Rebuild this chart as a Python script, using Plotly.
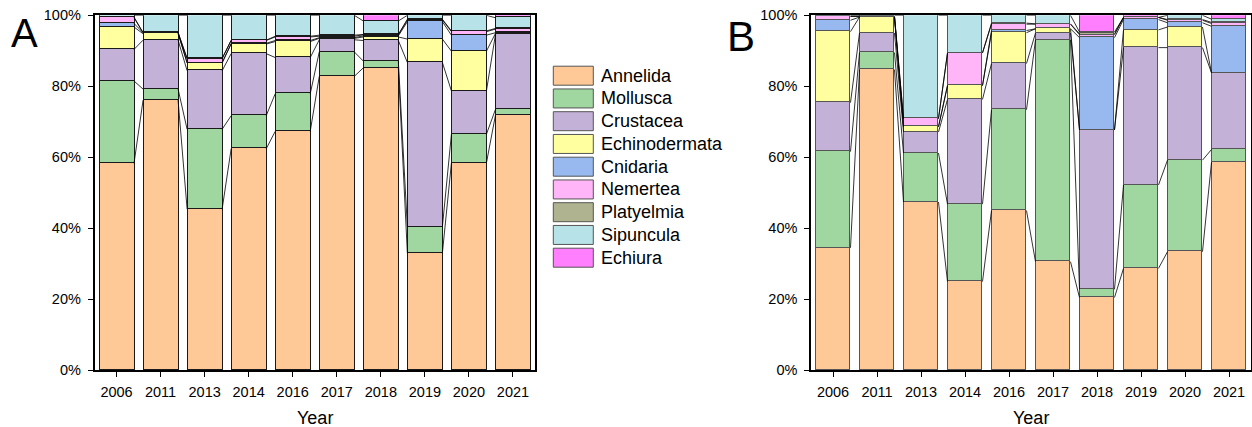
import plotly.graph_objects as go

years = ["2006", "2011", "2013", "2014", "2016", "2017", "2018", "2019", "2020", "2021"]
taxa = ["Annelida", "Mollusca", "Crustacea", "Echinodermata", "Cnidaria",
        "Nemertea", "Platyelmia", "Sipuncula", "Echiura"]
colors = ["#FFC896", "#A0D7A0", "#C3B1D7", "#FFFFA0", "#98B9F0",
          "#FFB5F7", "#AFB38F", "#B7E2E7", "#FF7FFF"]
y_ticks = [0, 20, 40, 60, 80, 100]
y_ticktext = ["0%", "20%", "40%", "60%", "80%", "100%"]

# Panel A (% composition)
A_Annelida = [58.3, 76.1, 45.4, 62.4, 67.3, 82.8, 85.2, 33.0, 58.4, 71.9]
A_Mollusca = [23.2, 3.1, 22.5, 9.3, 10.6, 6.9, 1.9, 7.4, 8.1, 1.6]
A_Crustacea = [8.9, 13.8, 16.5, 17.5, 10.2, 3.4, 5.8, 46.3, 12.2, 21.1]
A_Echinodermata = [6.3, 1.8, 2.2, 2.7, 4.5, 0.4, 1.0, 6.6, 11.2, 0.3]
A_Cnidaria = [1.0, 0.3, 0.0, 0.2, 0.3, 0.2, 0.3, 4.9, 4.5, 0.2]
A_Nemertea = [1.6, 0.0, 1.1, 0.8, 1.0, 0.4, 0.3, 0.5, 1.0, 1.0]
A_Platyelmia = [0.2, 0.0, 0.2, 0.1, 0.2, 0.3, 0.1, 0.2, 0.2, 0.2]
A_Sipuncula = [0.5, 4.9, 12.1, 7.0, 5.9, 5.6, 3.8, 1.1, 4.4, 3.0]
A_Echiura = [0.0, 0.0, 0.0, 0.0, 0.0, 0.0, 1.6, 0.0, 0.0, 0.7]

# Panel B (% composition)
B_Annelida = [34.5, 84.7, 47.4, 25.0, 45.0, 30.6, 20.5, 28.7, 33.4, 58.6]
B_Mollusca = [27.1, 4.8, 13.8, 21.8, 28.4, 62.5, 2.3, 23.5, 25.8, 3.6]
B_Crustacea = [13.8, 5.5, 5.9, 29.5, 13.0, 1.9, 44.9, 38.7, 31.7, 21.6]
B_Echinodermata = [20.0, 4.5, 1.5, 3.9, 8.7, 1.2, 0.0, 5.0, 5.8, 0.0]
B_Cnidaria = [3.2, 0.0, 0.0, 0.0, 0.6, 0.0, 26.0, 2.9, 1.2, 13.1]
B_Nemertea = [1.1, 0.2, 2.3, 9.2, 1.8, 1.3, 0.8, 0.6, 0.7, 0.8]
B_Platyelmia = [0.0, 0.0, 0.0, 0.0, 0.3, 0.1, 0.3, 0.0, 0.2, 0.3]
B_Sipuncula = [0.3, 0.3, 29.1, 10.6, 2.2, 2.4, 0.5, 0.0, 1.2, 0.9]
B_Echiura = [0.0, 0.0, 0.0, 0.0, 0.0, 0.0, 4.7, 0.6, 0.0, 1.1]

panelA = [A_Annelida, A_Mollusca, A_Crustacea, A_Echinodermata, A_Cnidaria,
          A_Nemertea, A_Platyelmia, A_Sipuncula, A_Echiura]
panelB = [B_Annelida, B_Mollusca, B_Crustacea, B_Echinodermata, B_Cnidaria,
          B_Nemertea, B_Platyelmia, B_Sipuncula, B_Echiura]

W, H = 1252, 427
FONT = "Liberation Sans, Arial, sans-serif"
BW = 0.795
xpos = list(range(len(years)))

fig = go.Figure()

def add_panel(data, xa, ya, edge):
    for name, vals, col in zip(taxa, data, colors):
        fig.add_trace(go.Bar(
            x=xpos, y=vals, width=BW, name=name, showlegend=False,
            marker=dict(color=col, line=dict(color=edge, width=1)),
            xaxis=xa, yaxis=ya))
    # connecting lines between segment boundaries
    lx, ly = [], []
    n = len(years)
    cums = []
    for i in range(n):
        c, acc = [], 0.0
        for k in range(len(taxa) - 1):
            acc += data[k][i]
            c.append(acc)
        cums.append(c)
    for k in range(len(taxa) - 1):
        for i in range(n - 1):
            lx += [xpos[i] + BW / 2, xpos[i + 1] - BW / 2, None]
            ly += [cums[i][k], cums[i + 1][k], None]
    fig.add_trace(go.Scatter(x=lx, y=ly, mode="lines", showlegend=False,
                             line=dict(color="#000000", width=0.8),
                             hoverinfo="skip", xaxis=xa, yaxis=ya))

add_panel(panelA, "x", "y", "#1a1a1a")
add_panel(panelB, "x2", "y2", "#555555")

ydom = [(H - 370.3) / H, (H - 15.3) / H]
xdomA = [94.5 / W, 535 / W]
xdomB = [811 / W, 1251 / W]

axis_common = dict(showline=True, linecolor="black", linewidth=1.5, mirror=True,
                   ticks="outside", ticklen=5, tickwidth=1.2, tickcolor="black",
                   showgrid=False, zeroline=False, automargin=False,
                   tickfont=dict(family=FONT, size=14.5, color="black"))

xcommon = dict(axis_common, range=[-0.5, len(years) - 0.5], tickmode="array",
               tickvals=xpos, ticktext=years, ticklabelstandoff=3)
ycommon = dict(axis_common, range=[0, 100], tickmode="array", tickvals=y_ticks,
               ticktext=y_ticktext, ticklabelstandoff=4)

fig.update_layout(
    width=W, height=H, margin=dict(l=0, r=0, t=0, b=0, autoexpand=False),
    paper_bgcolor="white", plot_bgcolor="white", barmode="stack", bargap=0,
    font=dict(family=FONT, color="black"),
    xaxis=dict(xcommon, domain=xdomA, anchor="y"),
    yaxis=dict(ycommon, domain=ydom, anchor="x"),
    xaxis2=dict(xcommon, domain=xdomB, anchor="y2"),
    yaxis2=dict(ycommon, domain=ydom, anchor="x2"),
)

annotations = [
    dict(text="A", x=24.7 / W, y=(H - 33) / H, xref="paper", yref="paper",
         showarrow=False, font=dict(family=FONT, size=40, color="black"),
         xanchor="center", yanchor="middle"),
    dict(text="B", x=740.7 / W, y=(H - 37) / H, xref="paper", yref="paper",
         showarrow=False, font=dict(family=FONT, size=42, color="black"),
         xanchor="center", yanchor="middle"),
    dict(text="Year", x=(xdomA[0] + xdomA[1]) / 2, y=(H - 417.5) / H, xref="paper",
         yref="paper", showarrow=False, font=dict(family=FONT, size=18, color="black"),
         xanchor="center", yanchor="middle"),
    dict(text="Year", x=(xdomB[0] + xdomB[1]) / 2, y=(H - 417.5) / H, xref="paper",
         yref="paper", showarrow=False, font=dict(family=FONT, size=18, color="black"),
         xanchor="center", yanchor="middle"),
]

shapes = []
for i, (name, col) in enumerate(zip(taxa, colors)):
    cy = 75.7 + 22.75 * i
    shapes.append(dict(type="rect", xref="paper", yref="paper",
                       x0=553.3 / W, x1=593.3 / W,
                       y0=(H - (cy + 9.5)) / H, y1=(H - (cy - 9.5)) / H,
                       fillcolor=col, line=dict(color="#555555", width=1)))
    annotations.append(dict(text=name, x=599.3 / W, y=(H - cy) / H, xref="paper",
                            yref="paper", showarrow=False, xanchor="left",
                            yanchor="middle",
                            font=dict(family=FONT, size=18, color="black")))

fig.update_layout(annotations=annotations, shapes=shapes)
fig.write_html("out.html")
